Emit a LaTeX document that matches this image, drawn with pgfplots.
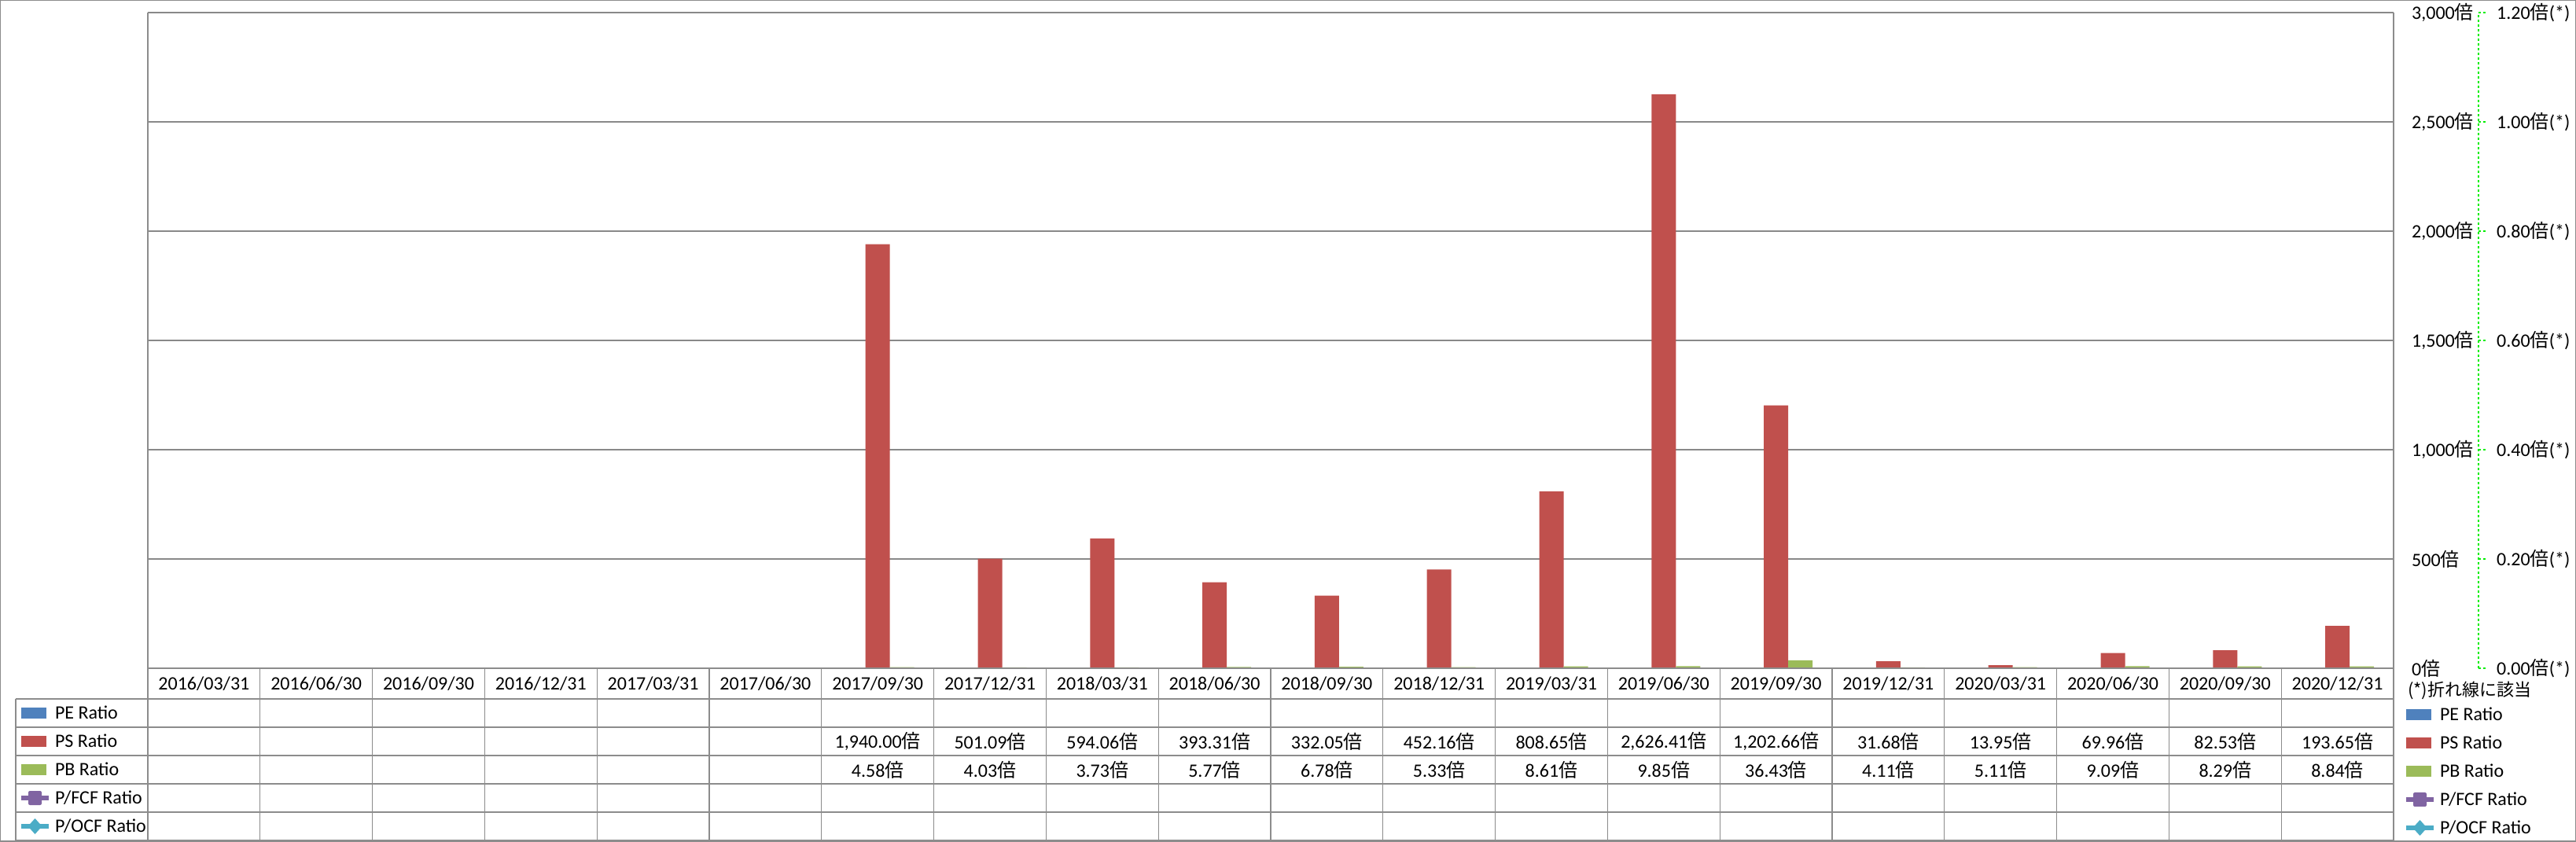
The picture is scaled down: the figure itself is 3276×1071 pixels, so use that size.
\documentclass[border=0pt]{standalone}
\usepackage{pgfplots}
\pgfplotsset{compat=1.18}
\usepackage{pgfplotstable}
\usepackage{fontspec}
\setmainfont{Carlito}
\newfontfamily\cjk{Noto Sans CJK JP}
\newcommand\bai{{\cjk 倍}}
\newcommand\fs{\fontsize{24bp}{28bp}\selectfont}
\definecolor{peC}{HTML}{4F81BD}
\definecolor{psC}{HTML}{C0504D}
\definecolor{pbC}{HTML}{9BBB59}
\definecolor{fcfC}{HTML}{8064A2}
\definecolor{ocfC}{HTML}{4BACC6}
\definecolor{gridC}{HTML}{898989}
\definecolor{lineC}{HTML}{8C8C8C}
\definecolor{greenC}{HTML}{00EE00}

\pgfplotstableread{
idx PS PB
6 1940.00 4.58
7 501.09 4.03
8 594.06 3.73
9 393.31 5.77
10 332.05 6.78
11 452.16 5.33
12 808.65 8.61
13 2626.41 9.85
14 1202.66 36.43
15 31.68 4.11
16 13.95 5.11
17 69.96 9.09
18 82.53 8.29
19 193.65 8.84
}\data

\pgfplotsset{
 mylegend/.style={legend style={draw=none, fill=none, at={#1}, anchor=north west,
   inner sep=0pt, outer sep=0pt, row sep=12bp, column sep=5bp, font=\fs,
   nodes={inner sep=0pt, anchor=west}}, legend cell align=left},
}
\newcommand\legentries{%
 \addlegendimage{legend image code/.code={\path[draw=none,fill=none] (0bp,-12bp) rectangle (34bp,12bp);\path[draw=none,fill=peC] (0bp,-7bp) rectangle (32bp,7bp);}}
 \addlegendentry{PE Ratio}
 \addlegendimage{legend image code/.code={\path[draw=none,fill=none] (0bp,-12bp) rectangle (34bp,12bp);\path[draw=none,fill=psC] (0bp,-7bp) rectangle (32bp,7bp);}}
 \addlegendentry{PS Ratio}
 \addlegendimage{legend image code/.code={\path[draw=none,fill=none] (0bp,-12bp) rectangle (34bp,12bp);\path[draw=none,fill=pbC] (0bp,-7bp) rectangle (32bp,7bp);}}
 \addlegendentry{PB Ratio}
 \addlegendimage{legend image code/.code={\path[draw=none,fill=none] (0bp,-12bp) rectangle (34bp,12bp);\path[draw=fcfC, fill=none, line width=6bp] (0bp,0bp) -- (35bp,0bp);\path[draw=none, fill=fcfC, rounded corners=2bp] (9bp,-9bp) rectangle (26bp,9bp);}}
 \addlegendentry{P/FCF Ratio}
 \addlegendimage{legend image code/.code={\path[draw=none,fill=none] (0bp,-12bp) rectangle (34bp,12bp);\path[draw=ocfC, fill=none, line width=6bp] (0bp,0bp) -- (35bp,0bp);\path[draw=none, fill=ocfC] (8.5bp,0bp) -- (17.5bp,10bp) -- (26.5bp,0bp) -- (17.5bp,-10bp) -- cycle;}}
 \addlegendentry{P/OCF Ratio}
}

\begin{document}
\begin{tikzpicture}
\useasboundingbox (0,0) rectangle (3276bp,1071bp);

\begin{axis}[
 at={(188bp,221bp)}, anchor=south west, scale only axis,
 width=2856bp, height=834bp,
 xmin=-0.5, xmax=19.5, ymin=0, ymax=3000,
 xtick=\empty, ytick={0,500,1000,1500,2000,2500,3000},
 yticklabels={{0\bai},{500\bai},{1,000\bai},{1,500\bai},{2,000\bai},{2,500\bai},{3,000\bai}},
 yticklabel pos=right,
 yticklabel style={anchor=west, inner sep=0pt, xshift=23bp, font=\fs},
 major tick length=0pt,
 axis line style={draw=none},
 ymajorgrids, grid style={color=gridC, line width=1.2bp},
 clip=false,
 mylegend={(-0.05742,-0.05396)},
]
\addplot[ybar, bar width=31bp, bar shift=0bp, fill=psC, draw=none, forget plot] table[x=idx,y=PS]{\data};
\addplot[ybar, bar width=31bp, bar shift=31bp, fill=pbC, draw=none, forget plot] table[x=idx,y=PB]{\data};
\legentries
\end{axis}

\begin{axis}[
 at={(188bp,221bp)}, anchor=south west, scale only axis,
 width=2856bp, height=834bp,
 xmin=-0.5, xmax=19.5, ymin=0, ymax=1.2,
 xtick=\empty, ytick={0,0.2,0.4,0.6,0.8,1.0,1.2},
 yticklabels={{0.00\bai(*)},{0.20\bai(*)},{0.40\bai(*)},{0.60\bai(*)},{0.80\bai(*)},{1.00\bai(*)},{1.20\bai(*)}},
 yticklabel pos=right,
 yticklabel style={anchor=west, inner sep=0pt, xshift=131bp, font=\fs},
 major tick length=0pt,
 axis line style={draw=none},
 clip=false,
 mylegend={(1.004552,-0.056355)},
]
\legentries
\end{axis}

% green dashed secondary axis line
\draw[greenC, dash pattern=on 3bp off 3bp, line width=1.5bp] (3152bp,221bp) -- (3152bp,1055bp);
\foreach \k in {0,...,6}{
  \draw[greenC, dash pattern=on 3bp off 3bp, line width=1.5bp] (3152bp,{221bp+139bp*\k}) -- (3161bp,{221bp+139bp*\k});
}

\begin{scope}[x=1bp, y=-1bp, shift={(0bp,1071bp)}]
 % table lines
 \draw[lineC, line width=1.3bp] (188,16) -- (188,1069);
 \draw[lineC, line width=1.3bp] (3044,16) -- (3044,1069);
 \draw[lineC, line width=1.3bp] (188,850) -- (3044,850);
 \foreach \yy in {889,925,961,997,1033,1069}{
   \draw[lineC, line width=1.3bp] (20,\yy) -- (3044,\yy);
 }
 \draw[lineC, line width=1.3bp] (20,889) -- (20,1069);
 \foreach \i in {1,...,19}{
   \draw[lineC, line width=1.3bp] ({188+142.8*\i},850) -- ({188+142.8*\i},1069);
 }
 % header dates
 \foreach \d [count=\i from 0] in {2016/03/31,2016/06/30,2016/09/30,2016/12/31,2017/03/31,2017/06/30,2017/09/30,2017/12/31,2018/03/31,2018/06/30,2018/09/30,2018/12/31,2019/03/31,2019/06/30,2019/09/30,2019/12/31,2020/03/31,2020/06/30,2020/09/30,2020/12/31}{
   \node[inner sep=0pt] at ({188+142.8*(\i+0.5)},870) {\fs\d};
 }
 % PS values
 \foreach \i/\v in {6/{1,940.00},7/501.09,8/594.06,9/393.31,10/332.05,11/452.16,12/808.65,13/{2,626.41},14/{1,202.66},15/31.68,16/13.95,17/69.96,18/82.53,19/193.65}{
   \node[inner sep=0pt] at ({188+142.8*(\i+0.5)},943) {\fs\v\bai};
 }
 % PB values
 \foreach \i/\v in {6/4.58,7/4.03,8/3.73,9/5.77,10/6.78,11/5.33,12/8.61,13/9.85,14/36.43,15/4.11,16/5.11,17/9.09,18/8.29,19/8.84}{
   \node[inner sep=0pt] at ({188+142.8*(\i+0.5)},979) {\fs\v\bai};
 }
 \node[anchor=west, inner sep=0pt] at (3062,878) {\fontsize{22bp}{26bp}\selectfont\cjk (*)折れ線に該当};
 % outer border
 \draw[lineC, line width=1.5bp] (0.75,0.75) rectangle (3275.25,1070.25);
\end{scope}
\end{tikzpicture}
\end{document}
